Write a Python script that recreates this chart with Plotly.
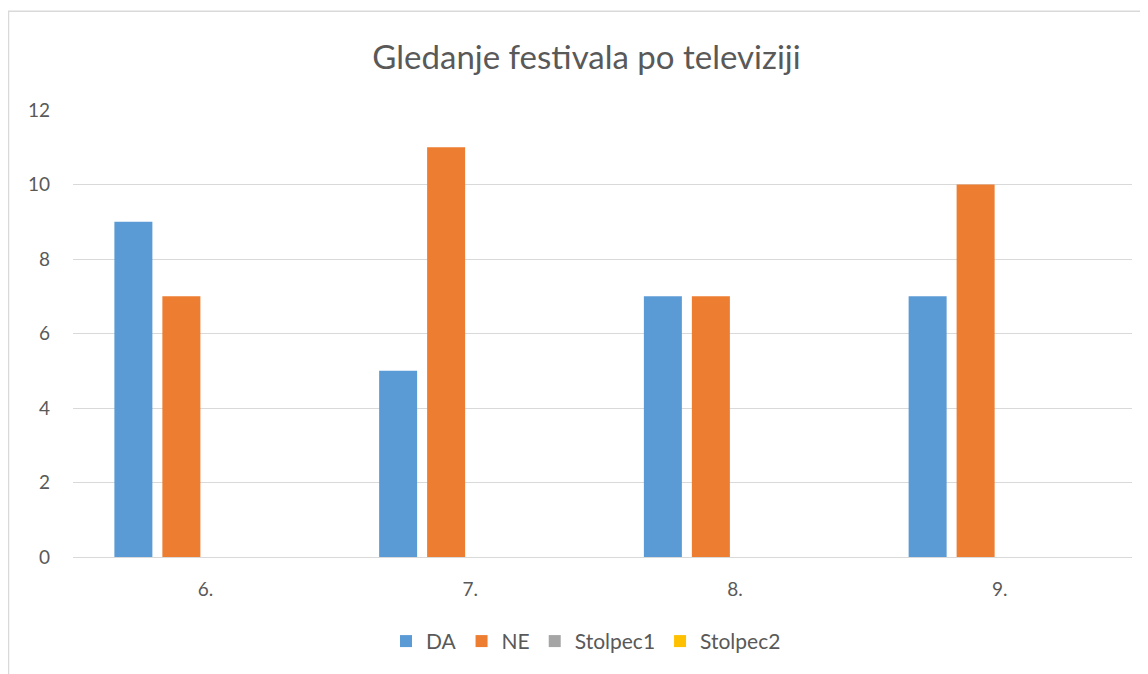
import plotly.graph_objects as go

categories = ["6.", "7.", "8.", "9."]
da = [9, 5, 7, 7]
ne = [7, 11, 7, 10]
stolpec1 = [None, None, None, None]
stolpec2 = [None, None, None, None]

series = [
    ("DA", da, "#5B9BD5"),
    ("NE", ne, "#ED7D31"),
    ("Stolpec1", stolpec1, "#A5A5A5"),
    ("Stolpec2", stolpec2, "#FFC000"),
]

OFF = 8  # page body margin
W, H = 1148 - OFF, 674 - OFF
L, R, T, B = 73 - OFF, 16, 110 - OFF, 114
pw = W - L - R
ph = H - T - B


def px(x_page):
    return (x_page - OFF - L) / pw


def py(y_page):
    return (H - B - (y_page - OFF)) / ph


fig = go.Figure()
for name, vals, col in series:
    fig.add_trace(go.Bar(x=categories, y=vals, name=name,
                         marker=dict(color=col, line=dict(width=0))))

font_c = "#595959"
fig.update_layout(
    width=W, height=H,
    margin=dict(l=L, r=R, t=T, b=B),
    paper_bgcolor="white", plot_bgcolor="white",
    font=dict(family="Lato, Carlito, Calibri, sans-serif", color=font_c, size=19),
    title=dict(text="Gledanje festivala po televiziji", x=(586.5 - OFF) / W, xanchor="center",
               y=1 - (57 - OFF) / H, yanchor="middle",
               font=dict(size=33, color=font_c)),
    barmode="group", bargap=0.2748, bargroupgap=0.2083,
    showlegend=True,
    legend=dict(orientation="h", x=px(586), xanchor="center",
                y=py(645), yanchor="middle",
                font=dict(size=21, color=font_c), traceorder="normal",
                itemwidth=30),
    xaxis=dict(showgrid=False, showline=True, linecolor="#D9D9D9", linewidth=1,
               ticks="", ticklabelstandoff=15, tickfont=dict(size=19, color=font_c)),
    yaxis=dict(range=[0, 12], dtick=2, showgrid=True, gridcolor="#D9D9D9", gridwidth=1,
               zeroline=False, showline=False, ticks="", ticklabelstandoff=22,
               tickfont=dict(size=19, color=font_c)),
    shapes=[dict(type="rect", xref="paper", yref="paper",
                 x0=px(8.5), x1=px(1180),
                 y0=py(700), y1=py(10.5),
                 line=dict(color="#D9D9D9", width=1.5), fillcolor="rgba(0,0,0,0)",
                 layer="below")],
)

fig.write_html("out.html")
